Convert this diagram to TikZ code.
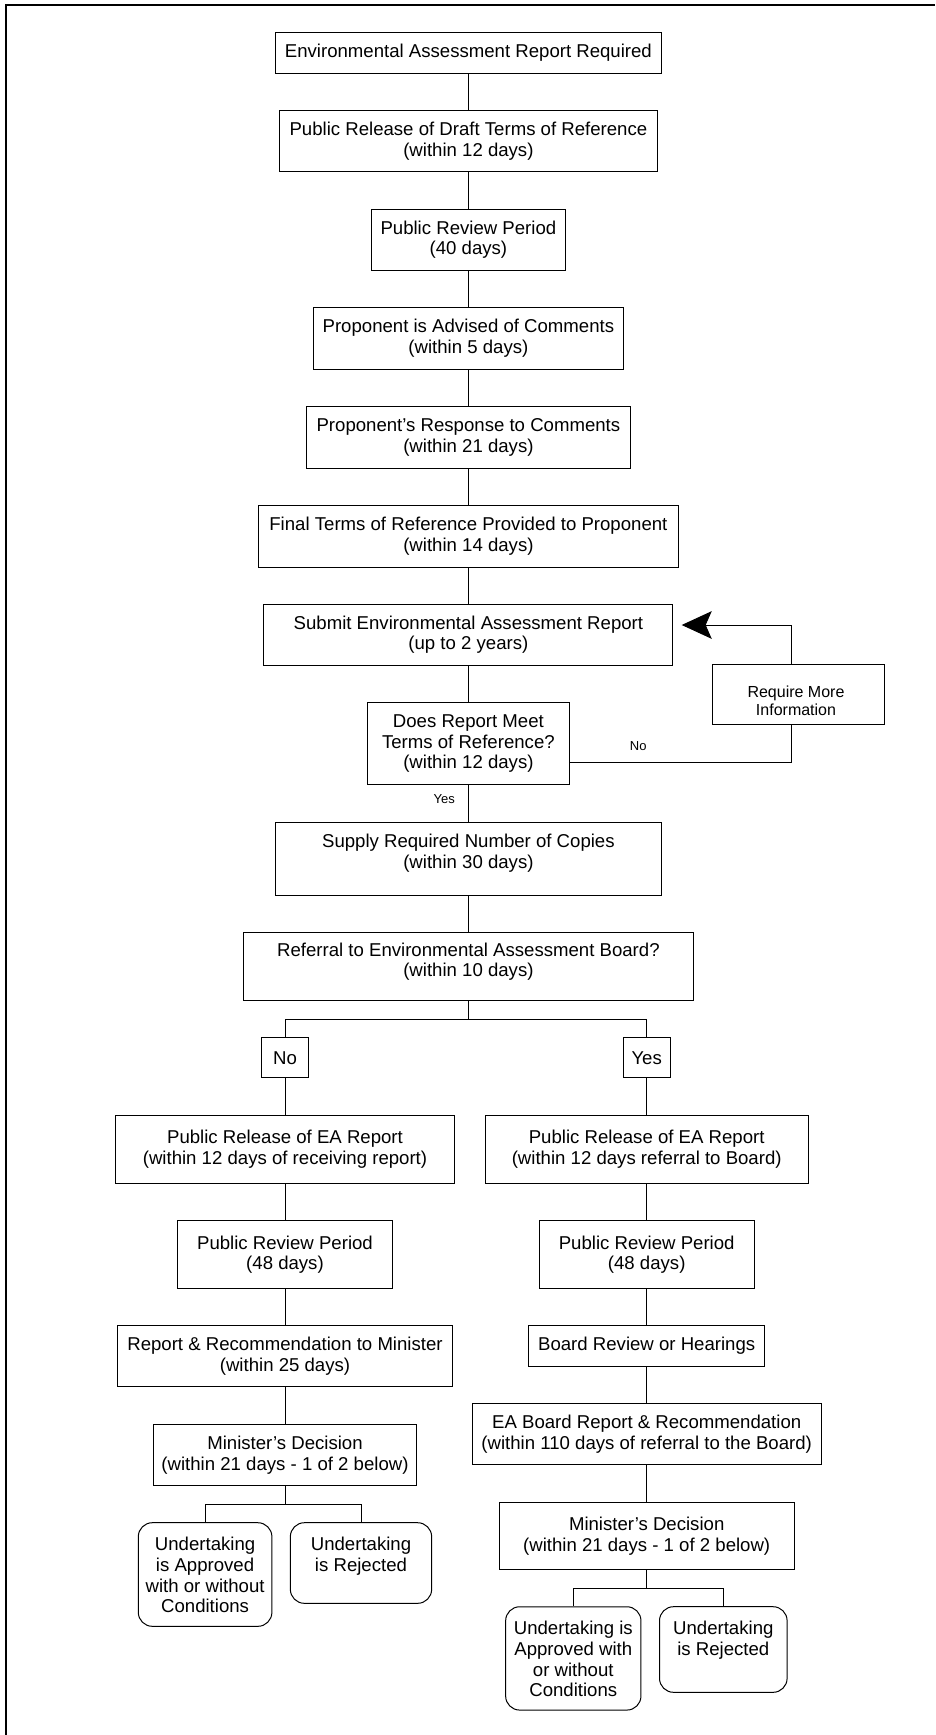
\documentclass[tikz,border=0pt]{standalone}
\usepackage{fontspec}
\setmainfont{Liberation Sans}
\usetikzlibrary{arrows.meta,calc}
\newcommand\mainfs{\fontsize{18.6}{20.6}\selectfont}
\newcommand\lblfs{\fontsize{13}{15}\selectfont}
\newcommand\rmifs{\fontsize{16}{17.7}\selectfont}
\begin{document}
\begin{tikzpicture}[x=1pt,y=-1pt,
  box/.style={draw=black, line width=1pt, inner sep=0pt, align=center, font=\mainfs},
  ubox/.style={box, rounded corners=14pt},
  conn/.style={draw=black, line width=1pt},
  lbl/.style={inner sep=0pt, font=\lblfs},
  txt/.style={inner sep=0pt, align=center, font=\mainfs}]
\useasboundingbox (0,0) rectangle (935,1735);
% frame
\draw[line width=1.8pt] (6,1735) -- (6,4.7) -- (935,4.7);

% main column
\node[box, minimum width=385.8, minimum height=40.7] (N1) at (468.4,52.7) {Environmental Assessment Report Required};
\node[box, minimum width=377.4, minimum height=61.4] (N2) at (468.4,141) {Public Release of Draft Terms of Reference\\(within 12 days)};
\node[box, minimum width=193.8, minimum height=61] (N3) at (468.4,239.8) {Public Review Period\\(40 days)};
\node[box, minimum width=309.4, minimum height=61.7] (N4) at (468.4,338.2) {Proponent is Advised of Comments\\(within 5 days)};
\node[box, minimum width=323.2, minimum height=61.7] (N5) at (468.4,437.2) {Proponent’s Response to Comments\\(within 21 days)};
\node[box, minimum width=420.4, minimum height=61.7] (N6) at (468.4,536.2) {Final Terms of Reference Provided to Proponent\\(within 14 days)};
\node[box, minimum width=409, minimum height=61.3] (N7) at (468.4,634.7) {Submit Environmental Assessment Report\\(up to 2 years)};
\node[box, minimum width=202.2, minimum height=82.3] (N8) at (468.4,743.8) {Does Report Meet\\Terms of Reference?\\(within 12 days)};
\node[box, minimum width=171.7, minimum height=60.4] (RMI) at (798.4,694.5) {};
\node[txt, font=\rmifs] (RMIt) at (796,701) {Require More\\Information};
\node[box, minimum width=385.8, minimum height=73] (N9) at (468.4,858.8) {};
\node[txt] (N9t) at ($(N9)+(0,-5.5)$) {Supply Required Number of Copies\\(within 30 days)};
\node[box, minimum width=449.6, minimum height=68] (N10) at (468.4,966.3) {};
\node[txt] (N10t) at ($(N10)+(0,-4.5)$) {Referral to Environmental Assessment Board?\\(within 10 days)};

% branches
\node[box, minimum width=46.5, minimum height=40.3] (No) at (285,1057.8) {No};
\node[box, minimum width=47.1, minimum height=40.3] (Yes) at (646.7,1057.8) {Yes};

\node[box, minimum width=338.7, minimum height=68] (L1) at (285,1149.3) {Public Release of EA Report\\(within 12 days of receiving report)};
\node[box, minimum width=214.7, minimum height=67.6] (L2) at (285,1254.5) {Public Review Period\\(48 days)};
\node[box, minimum width=335.1, minimum height=61.3] (L3) at (285,1356.3) {Report \& Recommendation to Minister\\(within 25 days)};
\node[box, minimum width=262.9, minimum height=61] (L4) at (285,1455.2) {Minister’s Decision\\(within 21 days - 1 of 2 below)};
\node[ubox, minimum width=133.6, minimum height=103.6] (LA) at (205.1,1574.5) {};
\node[txt, anchor=north] (LAt) at ($(LA.north)+(0,15)$) {Undertaking\\is Approved\\with or without\\Conditions};
\node[ubox, minimum width=141.3, minimum height=80.6] (LR) at (361,1563) {};
\node[txt, anchor=north] (LRt) at ($(LR.north)+(0,15)$) {Undertaking\\is Rejected};

\node[box, minimum width=322.6, minimum height=68] (R1) at (646.7,1149.3) {Public Release of EA Report\\(within 12 days referral to Board)};
\node[box, minimum width=214.6, minimum height=67.6] (R2) at (646.7,1254.5) {Public Review Period\\(48 days)};
\node[box, minimum width=235.6, minimum height=40.6] (R3) at (646.7,1346) {Board Review or Hearings};
\node[box, minimum width=348.8, minimum height=61.4] (R4) at (646.7,1434) {EA Board Report \& Recommendation\\(within 110 days of referral to the Board)};
\node[box, minimum width=295.2, minimum height=67.4] (R5) at (646.7,1536) {Minister’s Decision\\(within 21 days - 1 of 2 below)};
\node[ubox, minimum width=135.3, minimum height=103.3] (RA) at (573.3,1658.4) {};
\node[txt, anchor=north] (RAt) at ($(RA.north)+(0,15)$) {Undertaking is\\Approved with\\or without\\Conditions};
\node[ubox, minimum width=127.6, minimum height=85.6] (RR) at (723.3,1649.5) {};
\node[txt, anchor=north] (RRt) at ($(RR.north)+(0,15)$) {Undertaking\\is Rejected};

% connectors main column
\draw[conn] (N1.south) -- (N2.north);
\draw[conn] (N2.south) -- (N3.north);
\draw[conn] (N3.south) -- (N4.north);
\draw[conn] (N4.south) -- (N5.north);
\draw[conn] (N5.south) -- (N6.north);
\draw[conn] (N6.south) -- (N7.north);
\draw[conn] (N7.south) -- (N8.north);
\draw[conn] (N8.south) -- node[lbl, anchor=east, pos=0.38, xshift=-13pt] {Yes} (N9.north);
\draw[conn] (N9.south) -- (N10.south |- N10.north);

% loop back
\coordinate (noA) at (569.5,762.3);
\coordinate (noB) at (791.3,762.3);
\coordinate (tip) at (681.7,625);
\draw[conn] (noA) -- node[lbl, pos=0.31, anchor=south, yshift=11.6pt] {No} (noB) -- (noB |- RMI.south);
\draw[conn, -{Stealth[length=30pt, width=27.6pt, inset=6pt]}] (noB |- RMI.north) |- (tip);

% branch split
\coordinate (b1) at (468.4,1019);
\draw[conn] (N10.south) -- (b1);
\draw[conn] (b1) -| (No.north);
\draw[conn] (b1) -| (Yes.north);

% left column
\draw[conn] (No.south) -- (L1.north);
\draw[conn] (L1.south) -- (L2.north);
\draw[conn] (L2.south) -- (L3.north);
\draw[conn] (L3.south) -- (L4.north);
\coordinate (lb) at (285,1504.3);
\draw[conn] (L4.south) -- (lb);
\draw[conn] (lb) -| (LA.north);
\draw[conn] (lb) -| (LR.north);

% right column
\draw[conn] (Yes.south) -- (R1.north);
\draw[conn] (R1.south) -- (R2.north);
\draw[conn] (R2.south) -- (R3.north);
\draw[conn] (R3.south) -- (R4.north);
\draw[conn] (R4.south) -- (R5.north);
\coordinate (rb) at (646.7,1588.3);
\draw[conn] (R5.south) -- (rb);
\draw[conn] (rb) -| (RA.north);
\draw[conn] (rb) -| (RR.north);
\end{tikzpicture}
\end{document}
